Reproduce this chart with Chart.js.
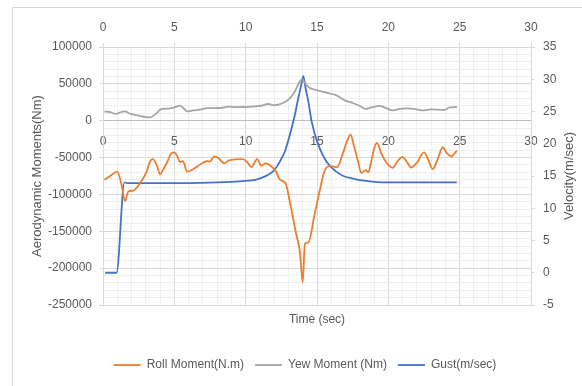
<!DOCTYPE html>
<html>
<head>
<meta charset="utf-8">
<title>Aerodynamic moments and gust velocity</title>
<script src="https://cdn.jsdelivr.net/npm/chart.js@4/dist/chart.umd.min.js"></script>
<style>
  html, body { margin: 0; padding: 0; background: #fff; }
  #chart { display: block; }
</style>
</head>
<body>
<canvas id="chart" width="582" height="386"></canvas>
<script>
// values (time in sec)
const rollTime = [0.1, 0.5, 1.0, 1.3, 1.54, 1.78, 2.13, 2.6, 3.06, 3.3, 3.5, 3.8, 4.0, 4.2, 4.5, 4.8, 5.0,
  5.2, 5.4, 5.6, 5.9, 6.2, 6.6, 7.0, 7.3, 7.5, 7.8, 8.1, 8.5, 8.8, 9.2, 9.8, 10.1, 10.4, 10.8, 11.1, 11.4,
  11.8, 12.1, 12.4, 12.8, 13.1, 13.5, 13.8, 14.0, 14.15, 14.4, 14.8, 15.2, 15.5, 15.8, 16.1, 16.4, 16.8, 17.1, 17.35, 17.6,
  17.9, 18.1, 18.4, 18.6, 18.8, 19.0, 19.2, 19.5, 19.8, 20.3, 20.6, 21.0, 21.3, 21.6, 22.0, 22.5, 22.8, 23.1, 23.5, 23.8,
  24.1, 24.4, 24.8];
const rollMoment = [-80000, -75000, -69000, -87000, -109000, -96000, -94700, -84600, -69000, -55000, -52000, -62000, -73000, -67000, -56000, -44000, -43000,
  -48000, -56000, -55000, -69000, -67000, -62000, -57000, -55000, -55500, -48500, -51000, -58000, -54000, -52500, -52000, -56000, -63000, -52000, -61000, -58000,
  -62000, -68000, -80000, -85000, -110000, -150000, -178000, -219000, -167000, -165000, -130000, -94000, -70000, -62000, -62000, -63000, -45000, -28000, -19000, -35000,
  -57000, -71000, -67000, -70000, -55000, -38000, -30000, -44000, -55000, -64000, -56000, -49000, -56000, -63500, -57000, -43000, -53000, -65500, -50000, -36000,
  -44000, -48500, -40500];

const yawTime = [0.1, 0.5, 0.95, 1.2, 1.55, 1.9, 2.5, 3.0, 3.3, 3.8, 4.0, 4.6, 5.0, 5.4, 5.65, 5.9, 6.3, 6.8, 7.3, 7.8,
  8.3, 8.8, 9.3, 10.0, 10.65, 11.0, 11.6, 12.0, 12.3, 13.0, 13.45, 13.8, 13.95, 14.2, 14.5, 15.0, 15.3, 15.8, 16.25, 16.5,
  16.9, 17.5, 18.0, 18.4, 18.8, 19.4, 19.8, 20.3, 20.8, 21.3, 21.8, 22.4, 23.0, 23.5, 23.9, 24.3, 24.8];
const yawMoment = [12800, 11500, 9200, 11500, 12600, 9500, 7000, 5000, 4500, 11000, 15000, 16500, 18000, 20400, 17000, 12600, 14000, 15000, 17000, 17200,
  17500, 19000, 18500, 18600, 19500, 20000, 22700, 21000, 21700, 28500, 39800, 53400, 56000, 50000, 44400, 41500, 39800, 37500, 35300, 33000,
  28000, 24000, 20000, 16000, 18000, 20000, 17500, 14000, 16000, 16700, 16000, 14000, 15500, 15000, 14500, 18000, 18600];

const gustTime = [0.15, 0.95, 1.5, 1.7, 3.0, 6.0, 8.0, 9.0, 10.0, 10.65, 11.1, 11.58, 12.0, 12.28, 12.75, 13.1, 13.45, 13.69, 13.9, 14.04,
  14.2, 14.39, 14.62, 14.97, 15.33, 15.65, 16.03, 16.4, 16.84, 17.5, 18.0, 19.0, 20.0, 22.0, 24.8];
const gustSpeed = [0, 0, 14.0, 13.9, 13.9, 13.9, 14.0, 14.1, 14.25, 14.4, 14.7, 15.2, 15.9, 16.8, 18.8, 21.4, 24.5, 27.1, 29.2, 30.5,
  28.6, 26.6, 23.5, 20.6, 18.6, 17.3, 16.3, 15.6, 15.0, 14.6, 14.35, 14.1, 14.0, 14.0, 14.0];

const seriesNames = ["Roll Moment(N.m)", "Yew Moment (Nm)", "Gust(m/sec)"];
const seriesColors = ["#ed7d31", "#a5a5a5", "#4472c4"];
const timeRange = [0, 30];
const momentRange = [-250000, 100000];
const velocityRange = [-5, 35];

const TEXT = "#595959";
const MAJOR = "#d9d9d9";
const MINOR = "#eeeeee";
const FONT = "'Liberation Sans', Arial, sans-serif";

Chart.defaults.font.family = FONT;
Chart.defaults.font.size = 12;
Chart.defaults.color = TEXT;

const toPoints = (xs, ys) => xs.map((x, i) => ({ x, y: ys[i] }));

// light outer frame of the chart object
const chartFrame = {
  id: "chartFrame",
  beforeDraw(chart) {
    const { ctx } = chart;
    ctx.save();
    ctx.strokeStyle = MAJOR;
    ctx.lineWidth = 1;
    ctx.strokeRect(12.5, 7.5, chart.width, chart.height);
    ctx.restore();
  },
};

// secondary axis title, reading bottom to top like the primary one
const velocityTitle = {
  id: "velocityTitle",
  afterDraw(chart) {
    const { ctx, chartArea } = chart;
    const axis = chart.scales.y1;
    ctx.save();
    ctx.translate(axis.left + 38, (chartArea.top + chartArea.bottom) / 2);
    ctx.rotate(-Math.PI / 2);
    ctx.font = `13px ${FONT}`;
    ctx.fillStyle = TEXT;
    ctx.textAlign = "center";
    ctx.textBaseline = "middle";
    ctx.fillText("Velocity(m/sec)", 0, 0);
    ctx.restore();
  },
};

const lineStyle = (i) => ({
  label: seriesNames[i],
  borderColor: seriesColors[i],
  backgroundColor: seriesColors[i],
  borderWidth: 1.8,
  pointRadius: 0,
  cubicInterpolationMode: "monotone",
  fill: false,
});

new Chart(document.getElementById("chart"), {
  type: "line",
  data: {
    datasets: [
      { ...lineStyle(0), data: toPoints(rollTime, rollMoment), xAxisID: "x", yAxisID: "y" },
      { ...lineStyle(1), data: toPoints(yawTime, yawMoment), xAxisID: "x", yAxisID: "y" },
      { ...lineStyle(2), data: toPoints(gustTime, gustSpeed), xAxisID: "x", yAxisID: "y1" },
    ],
  },
  options: {
    responsive: false,
    animation: false,
    devicePixelRatio: 1,
    layout: { padding: { left: 13, right: -15, top: 8, bottom: 5 } },
    plugins: {
      tooltip: { enabled: false },
      legend: {
        position: "bottom",
        labels: {
          usePointStyle: true,
          pointStyle: "line",
          pointStyleWidth: 27,
          padding: 11,
          color: TEXT,
          font: { size: 12 },
        },
      },
    },
    scales: {
      x: {
        type: "linear",
        position: { y: 0 },
        min: timeRange[0],
        max: timeRange[1],
        ticks: {
          stepSize: 1,
          autoSkip: false,
          maxRotation: 0,
          padding: 14,
          callback: (v) => (v % 5 === 0 ? v : ""),
        },
        grid: {
          drawTicks: false,
          color: (ctx) => (ctx.tick && ctx.tick.value % 5 === 0 ? MAJOR : MINOR),
        },
        border: { color: "#bfbfbf", width: 1 },
      },
      x2: {
        type: "linear",
        position: "top",
        min: timeRange[0],
        max: timeRange[1],
        ticks: { stepSize: 5, padding: 8, maxRotation: 0 },
        grid: { drawOnChartArea: false, tickLength: 4, tickColor: MAJOR },
        border: { color: MAJOR },
        afterFit: (scale) => { scale.height = 39; },
      },
      xt: {
        type: "linear",
        position: "bottom",
        min: timeRange[0],
        max: timeRange[1],
        ticks: { display: false },
        grid: { display: false, drawTicks: false },
        border: { display: false },
        title: { display: true, text: "Time (sec)", color: TEXT, font: { size: 12 }, padding: { top: 8, bottom: 21 } },
        afterFit: (scale) => { scale.height = 43; },
      },
      y: {
        type: "linear",
        position: "left",
        min: momentRange[0],
        max: momentRange[1],
        ticks: {
          stepSize: 10000,
          autoSkip: false,
          padding: 7,
          callback: (v) => (v % 50000 === 0 ? v : ""),
        },
        grid: {
          tickLength: 4,
          color: (ctx) => (ctx.tick && ctx.tick.value % 50000 === 0 ? MAJOR : MINOR),
          tickColor: (ctx) => (ctx.tick && ctx.tick.value % 50000 === 0 ? MAJOR : "rgba(0,0,0,0)"),
        },
        border: { color: MAJOR },
        title: {
          display: true,
          text: "Aerodynamic Moments(Nm)",
          color: TEXT,
          font: { size: 13 },
          padding: { top: 17, bottom: 0 },
        },
        afterFit: (scale) => { scale.width = 90; },
      },
      y1: {
        type: "linear",
        position: "right",
        min: velocityRange[0],
        max: velocityRange[1],
        ticks: { stepSize: 5, padding: 8 },
        grid: { drawOnChartArea: false, tickLength: 4, tickColor: MAJOR },
        border: { color: MAJOR },
        afterFit: (scale) => { scale.width = 66; },
      },
    },
  },
  plugins: [chartFrame, velocityTitle],
});
</script>
</body>
</html>
